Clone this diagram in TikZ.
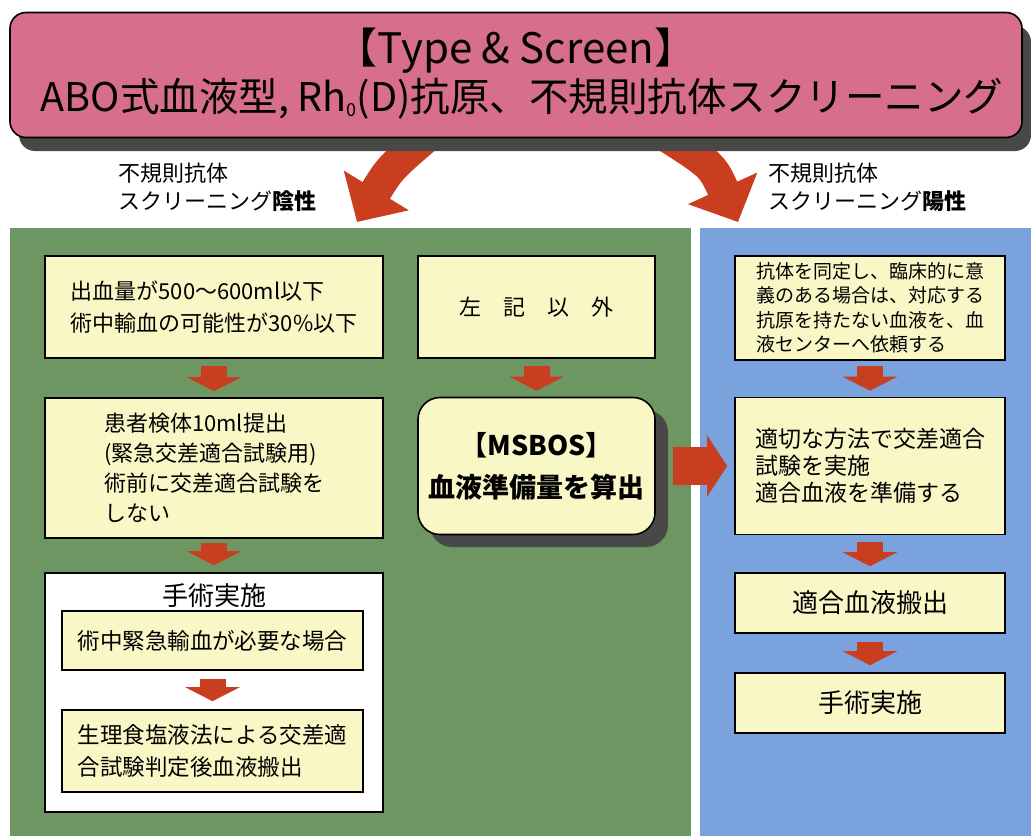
\documentclass[tikz,border=0pt]{standalone}
\usepackage{fontspec}
\setmainfont{Noto Sans CJK JP}
\usetikzlibrary{arrows.meta}
\definecolor{pinkc}{RGB}{214,110,140}
\definecolor{greenc}{RGB}{110,150,98}
\definecolor{bluec}{RGB}{122,162,220}
\definecolor{yellowc}{RGB}{250,247,198}
\definecolor{redc}{RGB}{200,62,30}
\definecolor{shadowc}{RGB}{72,72,72}
\newcommand{\lowsub}[1]{\raisebox{-0.12em}{\fontsize{18pt}{18pt}\selectfont #1}}
\begin{document}
\begin{tikzpicture}[x=1pt,y=-1pt,
  ybox/.style={draw=black, line width=1.6pt, fill=yellowc, inner sep=0pt, align=left},
  fs/.style={font=\fontsize{#1pt}{#1pt}\selectfont},
  fsb/.style 2 args={font=\fontsize{#1pt}{#2pt}\selectfont},
  downarr/.style={draw=redc, line width=26pt, -{Triangle[width=54pt,length=14pt]}},
  bigarr/.style={draw=redc, line width=38pt, -{Triangle[width=60pt,length=20pt]}},
  curvarr/.style={draw=redc, line width=32pt, -{Triangle[width=74pt,length=37pt]}}
]
\useasboundingbox (0,0) rectangle (1031,836);
\fill[white] (0,0) rectangle (1031,836);
% panels
\fill[greenc] (10,228) rectangle (691,836);
\fill[bluec] (700,228) rectangle (1031,836);
% curved arrows (drawn before the title so their tails are hidden)
\coordinate (lA) at (432,132);
\coordinate (lC) at (390,168);
\coordinate (lT) at (357,222);
\coordinate (rA) at (660,132);
\coordinate (rC) at (712,165);
\coordinate (rT) at (738,222);
\draw[curvarr] (lA) .. controls (lC) .. (lT);
\draw[curvarr] (rA) .. controls (rC) .. (rT);
% title
\fill[shadowc, rounded corners=16pt] (19,26) rectangle (1031,151);
\node[draw=black, line width=1.6pt, fill=pinkc, rounded corners=16pt,
      minimum width=1012pt, minimum height=125pt] (title) at (516,75) {};
\node[fs=42] (t1) at (516,51) {【Type \& Screen】};
\node[fs=39.5] (t2) at (522,99) {ABO式血液型, Rh\lowsub{0}(D)抗原、不規則抗体スクリーニング};
% branch labels
\node[fsb={22}{28}, align=left, anchor=west, inner sep=0pt] (lblL) at (118,187)
  {不規則抗体\\スクリーニング\textbf{陰性}};
\node[fsb={22}{28}, align=left, anchor=west, inner sep=0pt] (lblR) at (768,187)
  {不規則抗体\\スクリーニング\textbf{陽性}};
% left column
\node[ybox, fsb={22}{32}, minimum width=338pt, minimum height=102pt] (b1) at (214,307)
  {出血量が500〜600ml以下\\術中輸血の可能性が30\%以下};
\node[ybox, fsb={22}{30}, minimum width=338pt, minimum height=140pt] (b3) at (214,468)
  {患者検体10ml提出\\(緊急交差適合試験用)\\術前に交差適合試験を\\しない};
\node[draw=black, line width=1.6pt, fill=white, minimum width=338pt, minimum height=239pt] (w) at (214,692.5) {};
\node[fs=26] (wt) at (214,596) {手術実施};
\node[ybox, fs=22.5, minimum width=301pt, minimum height=59pt] (i1) at (212.5,640.5)
  {術中緊急輸血が必要な場合};
\node[ybox, fsb={22.5}{32}, minimum width=301pt, minimum height=82pt] (i2) at (212.5,751)
  {生理食塩液法による交差適\\合試験判定後血液搬出};
% middle column
\node[ybox, fs=22, minimum width=237pt, minimum height=102pt] (b2) at (536.5,307)
  {左　記　以　外};
\fill[shadowc, rounded corners=22pt] (430,410) rectangle (668,547);
\node[ybox, rounded corners=22pt, align=center, fsb={27}{42}, minimum width=237pt, minimum height=137pt] (ms) at (536.5,466)
  {\textbf{【MSBOS】}\\\textbf{血液準備量を算出}};
% right column
\node[ybox, fsb={19}{24.5}, minimum width=270pt, minimum height=104pt] (r1) at (870,308)
  {抗体を同定し、臨床的に意\\義のある場合は、対応する\\抗原を持たない血液を、血\\液センターへ依頼する};
\node[ybox, fsb={23}{27}, minimum width=270pt, minimum height=137pt] (r2) at (870,466)
  {適切な方法で交差適合\\試験を実施\\適合血液を準備する};
\node[ybox, fs=26, minimum width=270pt, minimum height=60pt] (r3) at (870,603) {適合血液搬出};
\node[ybox, fs=26, minimum width=270pt, minimum height=60pt] (r4) at (870,703) {手術実施};
% block arrows
\draw[downarr, shorten <=7pt, shorten >=6pt] (b1) -- (b3);
\draw[downarr, shorten <=4pt, shorten >=7pt] (b3) -- (w);
\draw[downarr, shorten <=8pt, shorten >=8pt] (i1) -- (i2);
\draw[downarr, shorten <=7pt, shorten >=6pt] (b2) -- (ms);
\draw[downarr, shorten <=5pt, shorten >=6pt] (r1) -- (r2);
\draw[downarr, shorten <=7pt, shorten >=6pt] (r2) -- (r3);
\draw[downarr, shorten <=8pt, shorten >=7pt] (r3) -- (r4);
\draw[bigarr, shorten <=17pt, shorten >=7pt] (ms) -- (r2);
\end{tikzpicture}
\end{document}
